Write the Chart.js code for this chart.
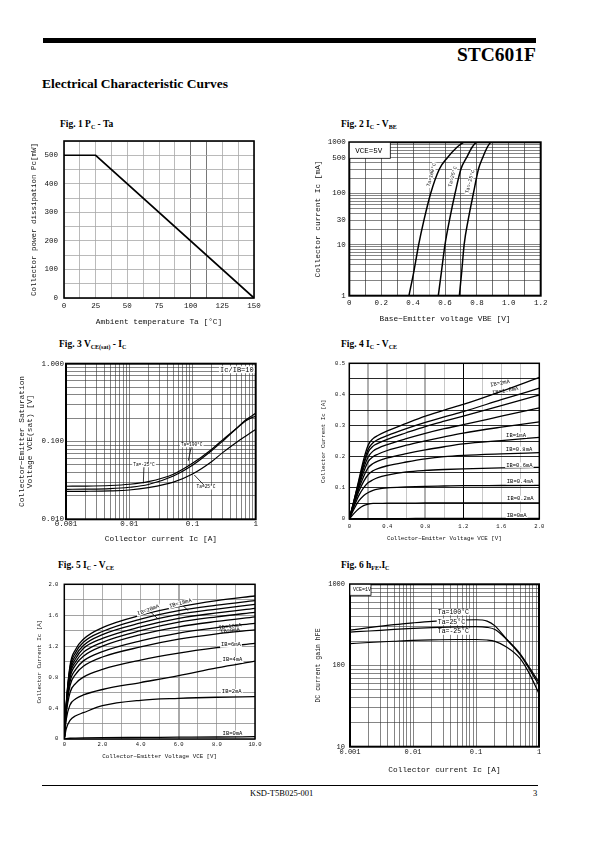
<!DOCTYPE html>
<html>
<head>
<meta charset="utf-8">
<title>STC601F - Electrical Characteristic Curves</title>
<script src="https://cdn.jsdelivr.net/npm/chart.js@4.4.1/dist/chart.umd.min.js"></script>
<style>
  body { margin: 0; background: #fff; }
  #page { position: relative; width: 595px; height: 842px; overflow: hidden; font-family: "Liberation Serif", serif; color: #000; }
  canvas { position: absolute; }
  .bar { position: absolute; background: #000; }
  .txt { position: absolute; white-space: nowrap; line-height: 1; }
  .fig { font-weight: bold; font-size: 9.5px; }
  .fig sub { font-size: 6px; vertical-align: -1.5px; line-height: 0; }
</style>
</head>
<body>
<div id="page">
  <div class="bar" style="left:43px;top:38px;width:493px;height:4.5px"></div>
  <div class="txt" style="right:59px;top:45px;font-size:19.5px;font-weight:bold">STC601F</div>
  <div class="txt" style="left:42px;top:77px;font-size:13.5px;font-weight:bold">Electrical Characteristic Curves</div>

  <div class="txt fig" style="left:60px;top:120px">Fig. 1 P<sub>C</sub> - Ta</div>
  <div class="txt fig" style="left:341px;top:120px">Fig. 2 I<sub>C</sub> - V<sub>BE</sub></div>
  <div class="txt fig" style="left:59px;top:340px">Fig. 3 V<sub>CE(sat)</sub> - I<sub>C</sub></div>
  <div class="txt fig" style="left:341px;top:340px">Fig. 4 I<sub>C</sub> - V<sub>CE</sub></div>
  <div class="txt fig" style="left:58px;top:561px">Fig. 5 I<sub>C</sub> - V<sub>CE</sub></div>
  <div class="txt fig" style="left:341px;top:561px">Fig. 6 h<sub>FE</sub>.I<sub>C</sub></div>

  <canvas id="fig1"></canvas>
  <canvas id="fig2"></canvas>
  <canvas id="fig3"></canvas>
  <canvas id="fig4"></canvas>
  <canvas id="fig5"></canvas>
  <canvas id="fig6"></canvas>

  <div class="bar" style="left:42px;top:784.5px;width:496px;height:1.5px"></div>
  <div class="txt" style="left:250px;top:789px;font-size:8.5px">KSD-T5B025-001</div>
  <div class="txt" style="left:533px;top:789px;font-size:8.5px">3</div>
</div>
<script>
const MONO = '"Liberation Mono", "DejaVu Sans Mono", monospace';

// Fig. 1  Pc - Ta
const taPoints = [0, 25, 150];
const pcPoints = [500, 500, 0];
const taGrid = [0, 12.5, 25, 37.5, 50, 62.5, 75, 87.5, 100, 112.5, 125, 137.5, 150];
const taLabels = ['0', '', '25', '', '50', '', '75', '', '100', '', '125', '', '150'];
const pcGrid = [0, 50, 100, 150, 200, 250, 300, 350, 400, 450, 500, 550];
const pcLabels = ['0', '', '100', '', '200', '', '300', '', '400', '', '500', ''];

// Fig. 2  Ic - Vbe  (Vce = 5V)
const icSteps2 = [1, 3, 10, 30, 100, 300, 500, 800, 1000];
const vbeTa100 = [0.374, 0.405, 0.435, 0.468, 0.510, 0.565, 0.615, 0.675, 0.715];
const vbeTa25 = [0.558, 0.578, 0.600, 0.628, 0.663, 0.700, 0.735, 0.770, 0.795];
const vbeTaM25 = [0.690, 0.705, 0.720, 0.745, 0.778, 0.810, 0.836, 0.865, 0.885];
const vbeGrid = [0, 0.1, 0.2, 0.3, 0.4, 0.5, 0.6, 0.7, 0.8, 0.9, 1.0, 1.1, 1.2];
const vbeLabels = ['0', '', '0.2', '', '0.4', '', '0.6', '', '0.8', '', '1.0', '', '1.2'];
const icLabels2 = { 1: '1', 10: '10', 30: '30', 100: '100', 500: '500', 1000: '1000' };

// Fig. 3  Vce(sat) - Ic  (Ic/Ib = 10)
const icSat = [0.001, 0.002, 0.005, 0.01, 0.02, 0.05, 0.1, 0.2, 0.3, 0.5, 0.7, 1];
const vsatTaM25 = [0.0266, 0.0267, 0.0272, 0.0282, 0.0305, 0.038, 0.0524, 0.079, 0.105, 0.148, 0.185, 0.213];
const vsatTa100 = [0.0243, 0.0244, 0.0248, 0.0258, 0.028, 0.036, 0.0495, 0.076, 0.101, 0.148, 0.19, 0.23];
const vsatTa25 = [0.0228, 0.0229, 0.0232, 0.0238, 0.0255, 0.030, 0.0382, 0.055, 0.072, 0.098, 0.118, 0.143];
const icLabels3 = { 0.001: '0.001', 0.01: '0.01', 0.1: '0.1', 1: '1' };
const vsatLabels = { 0.01: '0.010', 0.1: '0.100', 1: '1.000' };

// Fig. 4  Ic - Vce, low voltage
const vce4 = [0, 0.05, 0.1, 0.15, 0.2, 0.25, 0.3, 0.4, 0.6, 0.8, 1.0, 1.2, 1.6, 2.0];
const ib4 = ['2mA', '1.8mA', '1.6mA', '1.4mA', '1.2mA', '1mA', '0.8mA', '0.6mA', '0.4mA', '0.2mA', '0mA'];
const ic4 = [
  [0, 0.060, 0.125, 0.190, 0.238, 0.258, 0.268, 0.283, 0.307, 0.330, 0.350, 0.368, 0.410, 0.455],
  [0, 0.060, 0.120, 0.180, 0.225, 0.245, 0.255, 0.268, 0.290, 0.310, 0.328, 0.345, 0.383, 0.420],
  [0, 0.058, 0.115, 0.172, 0.215, 0.234, 0.243, 0.256, 0.277, 0.297, 0.314, 0.330, 0.364, 0.398],
  [0, 0.055, 0.110, 0.162, 0.200, 0.218, 0.227, 0.239, 0.258, 0.275, 0.290, 0.303, 0.330, 0.357],
  [0, 0.052, 0.104, 0.150, 0.185, 0.200, 0.208, 0.220, 0.237, 0.251, 0.264, 0.276, 0.295, 0.312],
  [0, 0.050, 0.097, 0.136, 0.165, 0.178, 0.186, 0.196, 0.210, 0.222, 0.232, 0.241, 0.252, 0.262],
  [0, 0.046, 0.088, 0.120, 0.143, 0.155, 0.162, 0.171, 0.183, 0.193, 0.200, 0.204, 0.209, 0.213],
  [0, 0.040, 0.075, 0.100, 0.117, 0.126, 0.133, 0.141, 0.151, 0.156, 0.159, 0.161, 0.164, 0.166],
  [0, 0.032, 0.058, 0.075, 0.085, 0.092, 0.096, 0.100, 0.103, 0.105, 0.106, 0.107, 0.1075, 0.108],
  [0, 0.018, 0.033, 0.043, 0.048, 0.050, 0.050, 0.051, 0.051, 0.0515, 0.0515, 0.052, 0.052, 0.052],
  [0, 0.001, 0.001, 0.001, 0.0015, 0.0015, 0.0015, 0.0015, 0.0015, 0.002, 0.002, 0.002, 0.002, 0.002]
];
const vce4Grid = [0, 0.2, 0.4, 0.6, 0.8, 1.0, 1.2, 1.4, 1.6, 1.8, 2.0];
const vce4Labels = ['0', '', '0.4', '', '0.8', '', '1.2', '', '1.6', '', '2.0'];
const ic4Grid = [0, 0.05, 0.1, 0.15, 0.2, 0.25, 0.3, 0.35, 0.4, 0.45, 0.5];
const ic4Labels = ['0', '', '0.1', '', '0.2', '', '0.3', '', '0.4', '', '0.5'];

// Fig. 5  Ic - Vce, wide range
const vce5 = [0, 0.1, 0.3, 0.6, 1, 2, 4, 6, 8, 10];
const ic5 = [
  [0, 0.45, 0.95, 1.16, 1.29, 1.44, 1.60, 1.71, 1.79, 1.849],
  [0, 0.44, 0.92, 1.12, 1.25, 1.39, 1.55, 1.66, 1.73, 1.788],
  [0, 0.43, 0.89, 1.08, 1.21, 1.35, 1.50, 1.61, 1.68, 1.741],
  [0, 0.42, 0.86, 1.04, 1.17, 1.30, 1.45, 1.56, 1.63, 1.690],
  [0, 0.41, 0.83, 1.00, 1.12, 1.25, 1.40, 1.51, 1.58, 1.638],
  [0, 0.40, 0.79, 0.96, 1.07, 1.20, 1.35, 1.45, 1.52, 1.580],
  [0, 0.38, 0.74, 0.90, 1.01, 1.13, 1.27, 1.37, 1.44, 1.496],
  [0, 0.36, 0.69, 0.84, 0.94, 1.06, 1.19, 1.29, 1.36, 1.410],
  [0, 0.32, 0.60, 0.72, 0.80, 0.90, 1.02, 1.11, 1.18, 1.237],
  [0, 0.25, 0.44, 0.52, 0.57, 0.64, 0.73, 0.82, 0.92, 1.008],
  [0, 0.13, 0.24, 0.30, 0.34, 0.43, 0.50, 0.525, 0.54, 0.547],
  [0, 0.005, 0.01, 0.012, 0.014, 0.017, 0.02, 0.023, 0.026, 0.03]
];
const vce5Grid = [0, 1, 2, 3, 4, 5, 6, 7, 8, 9, 10];
const vce5Labels = ['0', '', '2.0', '', '4.0', '', '6.0', '', '8.0', '', '10.0'];
const ic5Grid = [0, 0.2, 0.4, 0.6, 0.8, 1.0, 1.2, 1.4, 1.6, 1.8, 2.0];
const ic5Labels = ['0', '', '0.4', '', '0.8', '', '1.2', '', '1.6', '', '2.0'];

// Fig. 6  hFE - Ic  (Vce = 1V)
const icH = [0.001, 0.002, 0.005, 0.01, 0.02, 0.05, 0.1, 0.15, 0.2, 0.3, 0.5, 0.7, 1];
const hfeTa100 = [272, 292, 318, 335, 350, 362, 366, 352, 308, 215, 140, 95, 62];
const hfeTa25 = [258, 266, 278, 286, 293, 299, 301, 295, 277, 212, 136, 91, 57];
const hfeTaM25 = [186, 192, 199, 204, 207, 209, 209, 206, 198, 170, 122, 80, 45];
const icLabels6 = { 0.001: '0.001', 0.01: '0.01', 0.1: '0.1', 1: '1' };
const hfeLabels = { 10: '10', 100: '100', 1000: '1000' };

// ---------- helpers ----------
function logGrid(e0, e1) {
  const out = [];
  for (let e = e0; e < e1; e++) {
    for (let m = 1; m < 10; m++) out.push(+(m * Math.pow(10, e)).toPrecision(4));
  }
  out.push(+Math.pow(10, e1).toPrecision(4));
  return out;
}

function pairs(xs, ys) {
  return xs.map((x, i) => ({ x: x, y: ys[i] }));
}

function place(id, left, top, w, h) {
  const c = document.getElementById(id);
  c.width = w; c.height = h;
  c.style.left = left + 'px'; c.style.top = top + 'px';
  c.style.width = w + 'px'; c.style.height = h + 'px';
  return c;
}

function axis(o) {
  return {
    type: o.log ? 'logarithmic' : 'linear',
    min: o.min, max: o.max,
    afterBuildTicks: s => { s.ticks = o.grid.map(v => ({ value: v })); },
    afterFit: s => { if (s.isHorizontal()) s.height = o.size; else s.width = o.size; },
    ticks: {
      autoSkip: false, maxRotation: 0, minRotation: 0, padding: o.pad,
      color: '#111', font: { family: MONO, size: o.font },
      callback: o.label
    },
    grid: { color: o.gridColor || '#333', lineWidth: o.gridWidth || 0.6, drawTicks: false },
    border: { display: false },
    title: {
      display: true, text: o.title, color: '#111',
      font: { family: MONO, size: o.titleFont, lineHeight: o.titleLH || 1.2 },
      padding: o.titlePad
    }
  };
}

// thick frame round the plot area
const framePlugin = {
  id: 'frame',
  afterDatasetsDraw(chart, args, opts) {
    const { ctx, chartArea: a } = chart;
    ctx.save();
    ctx.strokeStyle = '#000';
    ctx.lineWidth = opts.width || 1.6;
    ctx.strokeRect(a.left, a.top, a.right - a.left, a.bottom - a.top);
    ctx.restore();
  }
};

// small curve labels, boxes and leader lines
const notesPlugin = {
  id: 'notes',
  afterDatasetsDraw(chart, args, opts) {
    const { ctx, chartArea: a } = chart;
    const xs = chart.scales.x, ys = chart.scales.y;
    (opts.items || []).forEach(n => {
      const size = n.size || 6;
      ctx.save();
      ctx.font = size + 'px ' + MONO;
      ctx.lineWidth = 0.8;
      ctx.strokeStyle = '#000';
      let px, py;
      if (n.corner) {
        px = n.right ? a.right - n.dx : a.left + n.dx;
        py = a.top + n.dy;
      } else {
        px = xs.getPixelForValue(n.x);
        py = ys.getPixelForValue(n.y);
      }
      if (n.tip) {
        ctx.beginPath();
        ctx.moveTo(px, py);
        ctx.lineTo(xs.getPixelForValue(n.tip.x), ys.getPixelForValue(n.tip.y));
        ctx.stroke();
      }
      ctx.translate(px, py);
      ctx.rotate((n.rot || 0) * Math.PI / 180);
      const w = ctx.measureText(n.text).width;
      const x0 = n.align === 'left' ? 0 : n.align === 'right' ? -w : -w / 2;
      if (n.bg) {
        ctx.fillStyle = '#fff';
        ctx.fillRect(x0 - 1, -size * 0.5, w + 2, size);
      }
      if (n.box) {
        ctx.fillStyle = '#fff';
        ctx.fillRect(n.box.x, n.box.y, n.box.w, n.box.h);
        ctx.strokeRect(n.box.x, n.box.y, n.box.w, n.box.h);
      }
      ctx.fillStyle = '#000';
      ctx.textBaseline = 'middle';
      ctx.fillText(n.text, x0, 0);
      ctx.restore();
    });
  }
};

function lineSet(label, data, width, straight) {
  return {
    label: label, data: data, showLine: true, borderColor: '#000',
    borderWidth: width, pointRadius: 0, fill: false,
    tension: 0, cubicInterpolationMode: straight ? 'default' : 'monotone'
  };
}

function build(id, pos, pad, datasets, xAxis, yAxis, frameW, notes) {
  const canvas = place(id, pos[0], pos[1], pos[2], pos[3]);
  return new Chart(canvas, {
    type: 'scatter',
    data: { datasets: datasets },
    options: {
      responsive: false, animation: false, devicePixelRatio: 1,
      layout: { padding: { left: 0, bottom: 0, top: pad[0], right: pad[1] } },
      scales: { x: xAxis, y: yAxis },
      plugins: {
        legend: { display: false }, tooltip: { enabled: false },
        frame: { width: frameW }, notes: { items: notes || [] }
      }
    },
    plugins: [framePlugin, notesPlugin]
  });
}

// ---------- Fig. 1 ----------
build('fig1', [20, 130, 250, 205], [11, 16],
  [lineSet('Pc', pairs(taPoints, pcPoints), 1.7, true)],
  Object.assign(axis({ min: 0, max: 150, grid: taGrid, label: (v, i) => taLabels[i], size: 37, pad: 4, font: 7.5,
    title: 'Ambient temperature Ta [\u00b0C]', titleFont: 7.8, titlePad: { top: 0, bottom: 8 } }),
    { grid: { drawTicks: false, lineWidth: 0.8, color: c => (c.tick && (c.tick.value === 100 || c.tick.value === 112.5)) ? '#555' : '#a8a8a8' } }),
  axis({ min: 0, max: 550, grid: pcGrid, label: (v, i) => pcLabels[i], size: 44, pad: 6, font: 7.5,
    gridColor: '#a8a8a8', gridWidth: 0.8,
    title: 'Collector power dissipation Pc[mW]', titleFont: 7.5, titlePad: { top: 10, bottom: 0 } }),
  1.6);

// ---------- Fig. 2 ----------
build('fig2', [300, 132, 256, 200], [10.3, 15.3],
  [
    lineSet('Ta=100\u00b0C', pairs(vbeTa100, icSteps2), 1.5),
    lineSet('Ta=25\u00b0C', pairs(vbeTa25, icSteps2), 1.5),
    lineSet('Ta=-25\u00b0C', pairs(vbeTaM25, icSteps2), 1.5)
  ],
  Object.assign(axis({ min: 0, max: 1.2, grid: vbeGrid, label: (v, i) => vbeLabels[i], size: 36.3, pad: 3, font: 7.5,
    title: 'Base\u2212Emitter voltage VBE [V]', titleFont: 7.8, titlePad: { top: 0, bottom: 8 } }),
    { grid: { drawTicks: false, lineWidth: 0.7, color: c => (c.tick && c.tick.value === 0.5) ? '#9a9a9a' : '#333' } }),
  axis({ log: true, min: 1, max: 1000, grid: logGrid(0, 3), label: v => icLabels2[v] || '', size: 49.3, pad: 3.5, font: 7.5,
    gridColor: '#333', gridWidth: 0.6,
    title: 'Collector current Ic [mA]', titleFont: 7.8, titlePad: { top: 13, bottom: 0 } }),
  2,
  [
    { corner: true, dx: 6, dy: 8.5, text: 'VCE=5V', size: 7.5, align: 'left', box: { x: -6, y: -8.5, w: 41, h: 16 } },
    { x: 0.515, y: 230, text: 'Ta=100\u00b0C', rot: -75, size: 5, bg: true },
    { x: 0.648, y: 213, text: 'Ta=25\u00b0C', rot: -75, size: 5, bg: true },
    { x: 0.757, y: 170, text: 'Ta=-25\u00b0C', rot: -75, size: 5, bg: true }
  ]);

// ---------- Fig. 3 ----------
build('fig3', [15, 352, 250, 205], [11.7, 9.3],
  [
    lineSet('Ta=-25\u00b0C', pairs(icSat, vsatTaM25), 1.2),
    lineSet('Ta=100\u00b0C', pairs(icSat, vsatTa100), 1.2),
    lineSet('Ta=25\u00b0C', pairs(icSat, vsatTa25), 1.2)
  ],
  axis({ log: true, min: 0.001, max: 1, grid: logGrid(-3, 0), label: v => icLabels3[v] || '', size: 37.7, pad: 0.5, font: 7.5,
    gridColor: '#333', gridWidth: 0.6,
    title: 'Collector current Ic [A]', titleFont: 7.8, titlePad: { top: 0, bottom: 13 } }),
  axis({ log: true, min: 0.01, max: 1, grid: logGrid(-2, 0), label: v => vsatLabels[v] || '', size: 51, pad: 2, font: 7.5,
    gridColor: '#333', gridWidth: 0.6,
    title: ['Collector\u2212Emitter Saturation', 'Voltage VCE(sat) [V]'], titleFont: 7.8, titleLH: 1.03, titlePad: { top: 3.3, bottom: 0 } }),
  2,
  [
    { corner: true, right: true, dx: 2, dy: 6, text: 'Ic/IB=10', size: 7, align: 'right', bg: true },
    { x: 0.0973, y: 0.0902, text: 'Ta=100\u00b0C', size: 4.5, bg: true, tip: { x: 0.0859, y: 0.0566 } },
    { x: 0.01713, y: 0.0499, text: 'Ta=-25\u00b0C', size: 4.5, bg: true, tip: { x: 0.0167, y: 0.029 } },
    { x: 0.1637, y: 0.0258, text: 'Ta=25\u00b0C', size: 4.5, bg: true, tip: { x: 0.107, y: 0.0371 } }
  ]);

// ---------- Fig. 4 ----------
build('fig4', [300, 352, 256, 205], [11.3, 16.7],
  ic4.map((row, k) => lineSet('IB=' + ib4[k], pairs(vce4, row), 1.3)),
  Object.assign(axis({ min: 0, max: 2, grid: vce4Grid, label: (v, i) => vce4Labels[i], size: 38, pad: 4.5, font: 5.5,
    title: 'Collector\u2212Emitter Voltage VCE [V]', titleFont: 5.8, titlePad: { top: 0, bottom: 14.7 } }),
    { grid: { drawTicks: false, lineWidth: c => (c.tick && [0.2, 0.4, 0.8].includes(c.tick.value)) ? 2 : 1,
      color: c => (c.tick && c.tick.value === 1.2) ? '#000' : (c.tick && [0.2, 0.4, 0.8].includes(c.tick.value)) ? '#b0b0b0' : '#c8c8c8' } }),
  axis({ min: 0, max: 0.5, grid: ic4Grid, label: (v, i) => ic4Labels[i], size: 49.3, pad: 4.3, font: 5.5,
    gridColor: '#111', gridWidth: 0.9,
    title: 'Collector Current Ic [A]', titleFont: 5.8, titlePad: { top: 19.7, bottom: 0 } }),
  1.5,
  [
    { x: 1.586, y: 0.436, text: 'IB=2mA', size: 5.5, rot: -10 },
    { x: 1.642, y: 0.412, text: 'IB=1.8mA', size: 5.5, rot: -10 },
    { x: 1.755, y: 0.269, text: 'IB=1mA', size: 5.5, bg: true },
    { x: 1.787, y: 0.224, text: 'IB=0.8mA', size: 5.5, bg: true },
    { x: 1.79, y: 0.173, text: 'IB=0.6mA', size: 5.5, bg: true },
    { x: 1.797, y: 0.12, text: 'IB=0.4mA', size: 5.5, bg: true },
    { x: 1.8, y: 0.066, text: 'IB=0.2mA', size: 5.5, bg: true },
    { x: 1.762, y: 0.012, text: 'IB=0mA', size: 5.5, bg: true }
  ]);

// ---------- Fig. 5 ----------
build('fig5', [15, 572, 250, 205], [12.3, 10],
  ic5.map((row, k) => lineSet('curve ' + k, pairs(vce5, row), 1.3)),
  Object.assign(axis({ min: 0, max: 10, grid: vce5Grid, label: (v, i) => vce5Labels[i], size: 38, pad: 2.5, font: 5.5,
    title: 'Collector\u2212Emitter Voltage VCE [V]', titleFont: 5.8, titlePad: { top: 0, bottom: 16.7 } }),
    { grid: { drawTicks: false, lineWidth: c => (c.tick && c.tick.value === 6) ? 2 : 0.8,
      color: c => (c.tick && c.tick.value === 6) ? '#aaa' : '#9a9a9a' } }),
  axis({ min: 0, max: 2, grid: ic5Grid, label: (v, i) => ic5Labels[i], size: 49.3, pad: 6, font: 5.5,
    gridColor: '#8a8a8a', gridWidth: 0.8,
    title: 'Collector Current Ic [A]', titleFont: 5.8, titlePad: { top: 21, bottom: 0 } }),
  1.5,
  [
    { x: 4.40, y: 1.668, text: 'IB=20mA', size: 5.5, rot: -20, bg: true, tip: { x: 4.93, y: 1.55 } },
    { x: 6.09, y: 1.754, text: 'IB=18mA', size: 5.5, rot: -15, bg: true, tip: { x: 6.5, y: 1.66 } },
    { x: 8.69, y: 1.455, text: 'IB=10mA', size: 5.5, rot: -8 },
    { x: 8.69, y: 1.40, text: 'IB=8mA', size: 5.5, rot: -8 },
    { x: 8.74, y: 1.215, text: 'IB=6mA', size: 5.5, bg: true },
    { x: 8.82, y: 1.021, text: 'IB=4mA', size: 5.5, bg: true },
    { x: 8.78, y: 0.611, text: 'IB=2mA', size: 5.5, bg: true },
    { x: 8.82, y: 0.074, text: 'IB=0mA', size: 5.5, bg: true }
  ]);

// ---------- Fig. 6 ----------
build('fig6', [300, 572, 256, 210], [12.3, 17],
  [
    lineSet('Ta=100\u00b0C', pairs(icH, hfeTa100), 1.2),
    lineSet('Ta=25\u00b0C', pairs(icH, hfeTa25), 1.2),
    lineSet('Ta=-25\u00b0C', pairs(icH, hfeTaM25), 1.2)
  ],
  axis({ log: true, min: 0.001, max: 1, grid: logGrid(-3, 0), label: v => icLabels6[v] || '', size: 35.3, pad: 1.5, font: 7,
    gridColor: '#333', gridWidth: 0.6,
    title: 'Collector current Ic [A]', titleFont: 7.8, titlePad: { top: 0, bottom: 7 } }),
  axis({ log: true, min: 10, max: 1000, grid: logGrid(1, 3), label: v => hfeLabels[v] || '', size: 50, pad: 5, font: 7,
    gridColor: '#333', gridWidth: 0.6,
    title: 'DC current gain hFE', titleFont: 6.5, titlePad: { top: 14, bottom: 0 } }),
  2,
  [
    { corner: true, dx: 3, dy: 5.5, text: 'VCE=1V', size: 5, align: 'left', box: { x: -3, y: -5.5, w: 21, h: 11 } },
    { x: 0.0247, y: 455, text: 'Ta=100\u00b0C', size: 6.5, align: 'left', bg: true },
    { x: 0.0247, y: 345, text: 'Ta=25\u00b0C', size: 6.5, align: 'left', bg: true },
    { x: 0.0247, y: 262, text: 'Ta=-25\u00b0C', size: 6.5, align: 'left', bg: true }
  ]);
</script>
</body>
</html>
